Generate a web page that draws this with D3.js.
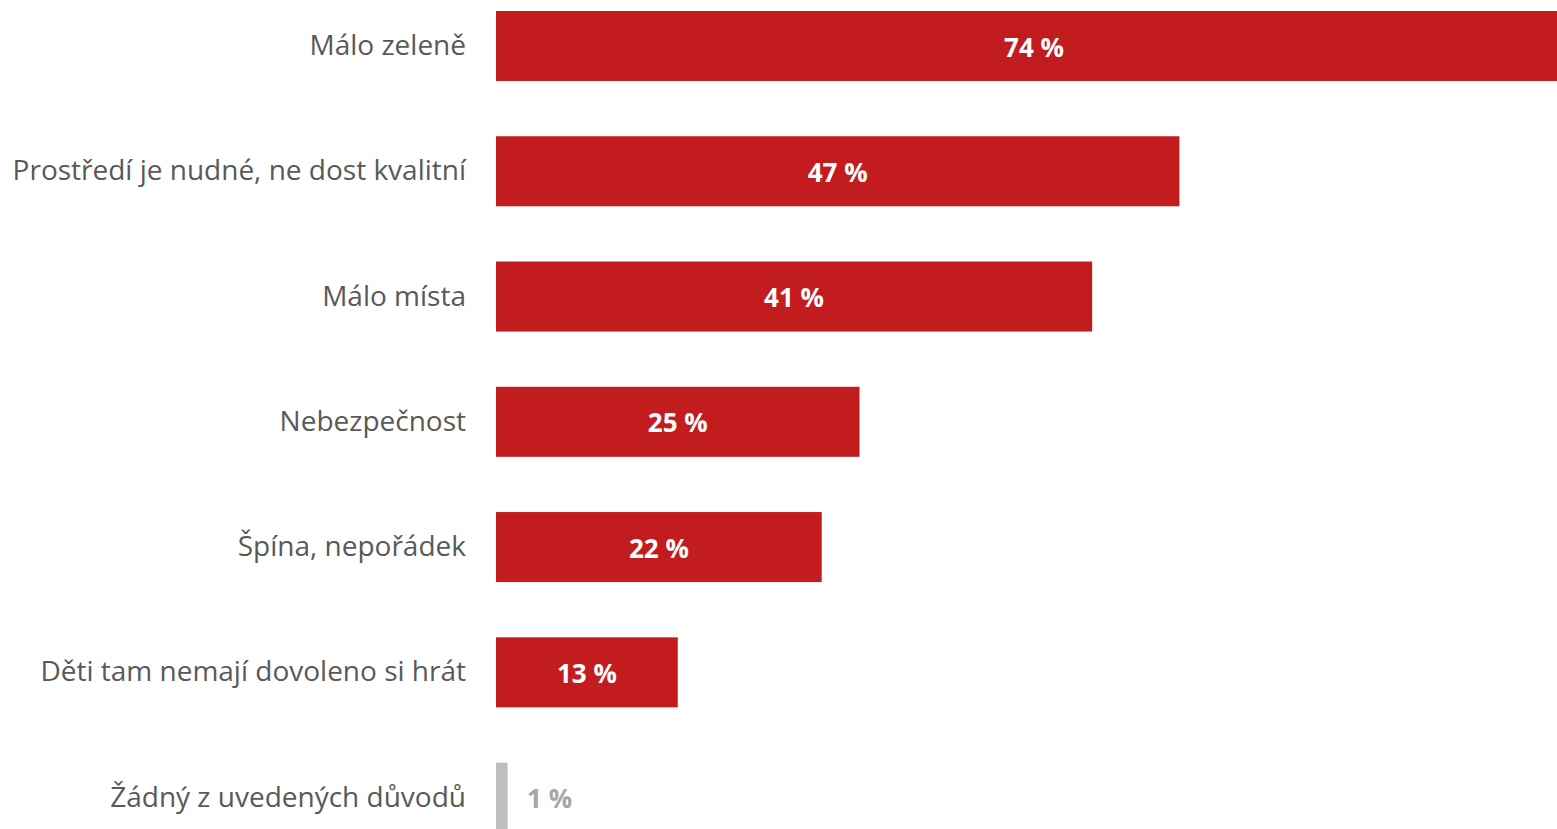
<!DOCTYPE html>
<html>
<head>
<meta charset="utf-8">
<script src="https://cdn.jsdelivr.net/npm/d3@7"></script>
<style>
  html, body { margin: 0; padding: 0; background: #ffffff; overflow: hidden; }
  svg { display: block; }
</style>
</head>
<body>
<svg id="chart" width="1557" height="829"></svg>
<script>
const categories = [
  "Málo zeleně",
  "Prostředí je nudné, ne dost kvalitní",
  "Málo místa",
  "Nebezpečnost",
  "Špína, nepořádek",
  "Děti tam nemají dovoleno si hrát",
  "Žádný z uvedených důvodů"
];
const values = [74, 47, 41, 25, 22.4, 12.5, 0.8];
const valueLabels = ["74 %", "47 %", "41 %", "25 %", "22 %", "13 %", "1 %"];
const highlighted = [true, true, true, true, true, true, false];

const W = 1557, H = 829;
const svg = d3.select("#chart");

const x0 = 496;
const x = d3.scaleLinear().domain([0, 74]).range([x0, 1572]);
const y = d3.scaleBand().domain(categories).range([11, 832.6]).paddingInner(0.441).paddingOuter(0);

const red = "#c21c1f", gray = "#bfbfbf";
const data = categories.map((c, i) => ({ c, v: values[i], label: valueLabels[i], hi: highlighted[i] }));

svg.selectAll("rect.bar").data(data).enter().append("rect")
  .attr("class", "bar")
  .attr("x", x(0))
  .attr("y", d => y(d.c))
  .attr("width", d => x(d.v) - x(0))
  .attr("height", y.bandwidth())
  .attr("fill", d => d.hi ? red : gray);

const font = "'Open Sans', 'Noto Sans', sans-serif";

svg.selectAll("text.cat").data(data).enter().append("text")
  .attr("class", "cat")
  .attr("x", 466)
  .attr("y", d => y(d.c) + y.bandwidth() / 2 + 9)
  .attr("text-anchor", "end")
  .attr("font-family", font)
  .attr("font-size", 28)
  .attr("fill", "#595959")
  .text(d => d.c);

svg.selectAll("text.val").data(data).enter().append("text")
  .attr("class", "val")
  .attr("x", d => d.hi ? (x(0) + x(d.v)) / 2 : x(d.v) + 42)
  .attr("y", d => y(d.c) + y.bandwidth() / 2 + 10.5)
  .attr("text-anchor", "middle")
  .attr("font-family", font)
  .attr("font-weight", "bold")
  .attr("font-size", 26)
  .attr("fill", d => d.hi ? "#ffffff" : "#a6a6a6")
  .text(d => d.label);
</script>
</body>
</html>
